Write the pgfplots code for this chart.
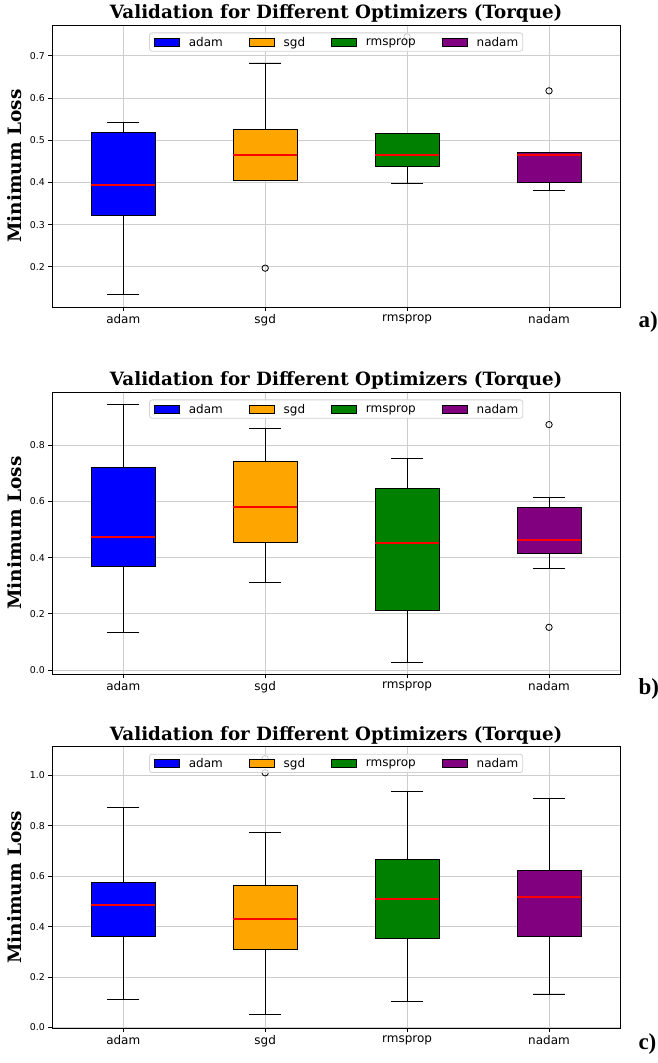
\documentclass[border=0pt]{standalone}
\usepackage{fontspec}
\setmainfont{DejaVu Sans}
\newfontfamily\titlefont{DejaVu Serif}
\newfontfamily\panelfont{Liberation Serif}
\usepackage{pgfplots}
\pgfplotsset{compat=1.18}
\usepgfplotslibrary{statistics}
\definecolor{gridgray}{RGB}{205,205,205}
\definecolor{legedge}{RGB}{210,210,210}
\definecolor{mplorange}{RGB}{255,165,0}
\definecolor{mplgreen}{RGB}{0,128,0}
\definecolor{mplpurple}{RGB}{128,0,128}
\tikzset{panel/.style={anchor=base west, font=\panelfont\bfseries\fontsize{23}{25}\selectfont, xshift=15pt, yshift=-21pt}}
\pgfplotsset{
  mybox/.style={
    scale only axis, width=567.7pt, height=282pt,
    anchor=south west,
    xmin=0.5, xmax=4.5,
    xtick={1,2,3,4}, xticklabels={adam,sgd,rmsprop,nadam},
    grid=major, major grid style={gridgray, line width=0.9pt},
    tick align=outside, tick pos=left,
    major tick length=4pt,
    every tick/.style={black, line width=0.8pt},
    axis line style={black, line width=0.8pt},
    /pgf/number format/assume math mode=true,
    yticklabel={\pgfmathprintnumber[assume math mode=true, fixed, fixed zerofill, precision=1]{\tick}},
    yticklabel style={font=\fontsize{9.4}{11}\selectfont},
    xticklabel style={font=\fontsize{12}{13}\selectfont},
    title style={font=\titlefont\bfseries\fontsize{18.3}{20}\selectfont, at={(0.5,1)}, anchor=base, yshift=0pt},
    title={Validation for Different Optimizers (Torque)},
    ylabel={Minimum Loss},
    every axis y label/.style={at={(rel axis cs:0,0.5)}, xshift=-37.3pt, rotate=90, anchor=center, font=\titlefont\bfseries\fontsize{18.5}{20}\selectfont},
    legend columns=4,
    legend style={at={(0.5,1)}, anchor=north, yshift=-7.5pt, draw=legedge, rounded corners=2.5pt, fill=white, fill opacity=0.8, text opacity=1, line width=0.8pt, font=\fontsize{12}{13}\selectfont, inner xsep=4.5pt, inner ysep=4.5pt, nodes={inner sep=0pt, text depth=0pt},
      /tikz/every odd column/.append style={column sep=9pt},
      /tikz/every even column/.append style={column sep=26pt}},
    legend image code/.code={\draw[sharp corners, fill opacity=1, #1] (0pt,-4.4pt) rectangle (25pt,4pt);},
    clip=false,
    boxplot/draw direction=y,
    boxplot/box extend=0.45,
    boxplot/whisker extend=0.225,
    boxplot/every median/.style={red, line width=2pt},
    boxplot/every box/.style={draw=black, line width=0.9pt},
    boxplot/every whisker/.style={black, line width=0.9pt},
  },
  bp/.style={forget plot, solid, draw=black, mark=o, mark size=3.2pt, mark options={black, line width=0.8pt}},
}
\begin{document}
\begin{tikzpicture}
\useasboundingbox (0,0) rectangle (658pt,1063pt);
% ---------- a ----------
\begin{axis}[mybox, at={(52.3pt,756pt)}, ymin=0.105, ymax=0.773, ytick={0.2,0.3,0.4,0.5,0.6,0.7}]
\addlegendimage{fill=blue, draw=black, line width=0.8pt}\addlegendentry{adam}
\addlegendimage{fill=mplorange, draw=black, line width=0.8pt}\addlegendentry{sgd}
\addlegendimage{fill=mplgreen, draw=black, line width=0.8pt}\addlegendentry{rmsprop}
\addlegendimage{fill=mplpurple, draw=black, line width=0.8pt}\addlegendentry{nadam}
\addplot[bp, fill=blue, boxplot prepared={draw position=1, lower whisker=0.134, lower quartile=0.323, median=0.394, upper quartile=0.519, upper whisker=0.543}] coordinates {};
\addplot[bp, fill=mplorange, boxplot prepared={draw position=2, lower whisker=0.405, lower quartile=0.405, median=0.464, upper quartile=0.525, upper whisker=0.683}] coordinates {(0,0.197)};
\addplot[bp, fill=mplgreen, boxplot prepared={draw position=3, lower whisker=0.398, lower quartile=0.438, median=0.464, upper quartile=0.517, upper whisker=0.517}] coordinates {(0,0.745)};
\addplot[bp, fill=mplpurple, boxplot prepared={draw position=4, lower whisker=0.380, lower quartile=0.400, median=0.466, upper quartile=0.471, upper whisker=0.471}] coordinates {(0,0.617)};
\node[panel] at (rel axis cs:1,0) {a)};
\end{axis}
% ---------- b ----------
\begin{axis}[mybox, at={(52.3pt,389pt)}, ymin=-0.014, ymax=0.989, ytick={0,0.2,0.4,0.6,0.8}]
\addlegendimage{fill=blue, draw=black, line width=0.8pt}\addlegendentry{adam}
\addlegendimage{fill=mplorange, draw=black, line width=0.8pt}\addlegendentry{sgd}
\addlegendimage{fill=mplgreen, draw=black, line width=0.8pt}\addlegendentry{rmsprop}
\addlegendimage{fill=mplpurple, draw=black, line width=0.8pt}\addlegendentry{nadam}
\addplot[bp, fill=blue, boxplot prepared={draw position=1, lower whisker=0.134, lower quartile=0.370, median=0.474, upper quartile=0.720, upper whisker=0.945}] coordinates {};
\addplot[bp, fill=mplorange, boxplot prepared={draw position=2, lower whisker=0.312, lower quartile=0.453, median=0.580, upper quartile=0.741, upper whisker=0.859}] coordinates {};
\addplot[bp, fill=mplgreen, boxplot prepared={draw position=3, lower whisker=0.028, lower quartile=0.211, median=0.453, upper quartile=0.646, upper whisker=0.753}] coordinates {};
\addplot[bp, fill=mplpurple, boxplot prepared={draw position=4, lower whisker=0.360, lower quartile=0.416, median=0.463, upper quartile=0.579, upper whisker=0.614}] coordinates {(0,0.873) (0,0.152)};
\node[panel] at (rel axis cs:1,0) {b)};
\end{axis}
% ---------- c ----------
\begin{axis}[mybox, at={(52.3pt,34.7pt)}, ymin=-0.003, ymax=1.115, ytick={0,0.2,0.4,0.6,0.8,1.0}]
\addlegendimage{fill=blue, draw=black, line width=0.8pt}\addlegendentry{adam}
\addlegendimage{fill=mplorange, draw=black, line width=0.8pt}\addlegendentry{sgd}
\addlegendimage{fill=mplgreen, draw=black, line width=0.8pt}\addlegendentry{rmsprop}
\addlegendimage{fill=mplpurple, draw=black, line width=0.8pt}\addlegendentry{nadam}
\addplot[bp, fill=blue, boxplot prepared={draw position=1, lower whisker=0.113, lower quartile=0.362, median=0.484, upper quartile=0.574, upper whisker=0.874}] coordinates {};
\addplot[bp, fill=mplorange, boxplot prepared={draw position=2, lower whisker=0.050, lower quartile=0.311, median=0.429, upper quartile=0.565, upper whisker=0.772}] coordinates {(0,1.010) (0,1.066)};
\addplot[bp, fill=mplgreen, boxplot prepared={draw position=3, lower whisker=0.104, lower quartile=0.354, median=0.509, upper quartile=0.665, upper whisker=0.937}] coordinates {};
\addplot[bp, fill=mplpurple, boxplot prepared={draw position=4, lower whisker=0.133, lower quartile=0.362, median=0.519, upper quartile=0.624, upper whisker=0.908}] coordinates {};
\node[panel] at (rel axis cs:1,0) {c)};
\end{axis}
\end{tikzpicture}
\end{document}
